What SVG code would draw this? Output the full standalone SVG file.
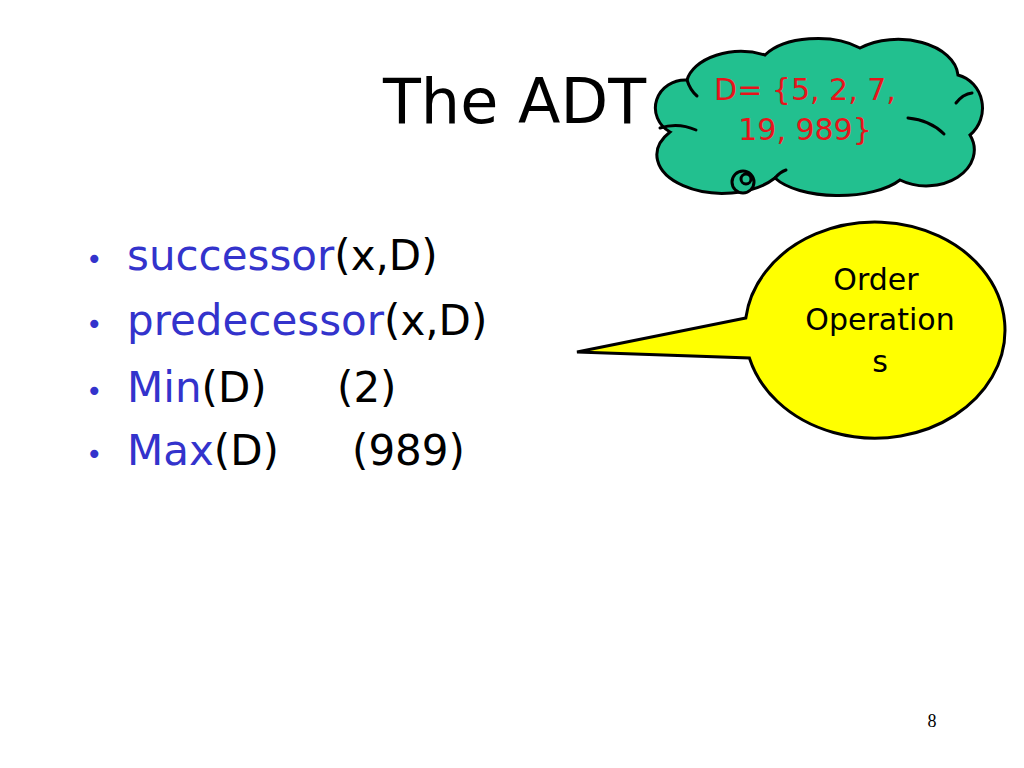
<svg xmlns="http://www.w3.org/2000/svg" width="1024" height="768" viewBox="0 0 1024 768">
<style>
.t{font-family:"DejaVu Sans","Liberation Sans",sans-serif}
.blue{fill:#3333CC}
.blk{fill:#000}
.red{fill:#E8141B}
.ln{fill:none;stroke:#000;stroke-width:3;stroke-linecap:round}
</style>
<rect width="1024" height="768" fill="#fff"/>
<g id="title"><text class="t blk" x="383" y="123" font-size="62">The ADT</text></g>
<g id="bullets" font-size="42">
<text class="t blue" x="86" y="269" font-size="28">•</text>
<text class="t" x="127" y="270"><tspan class="blue">successor</tspan><tspan class="blk">(x,D)</tspan></text>
<text class="t blue" x="86" y="334" font-size="28">•</text>
<text class="t" x="127" y="335"><tspan class="blue">predecessor</tspan><tspan class="blk">(x,D)</tspan></text>
<text class="t blue" x="86" y="401" font-size="28">•</text>
<text class="t" x="127" y="402"><tspan class="blue">Min</tspan><tspan class="blk">(D)</tspan></text>
<text class="t blk" x="337" y="402">(2)</text>
<text class="t blue" x="86" y="464" font-size="28">•</text>
<text class="t" x="127" y="465"><tspan class="blue">Max</tspan><tspan class="blk">(D)</tspan></text>
<text class="t blk" x="352" y="465">(989)</text>
</g>
<g id="cloud">
<path d="M 687,80 A 55,35 0 0 1 765,55 A 60,32 0 0 1 860,48 A 60,38 0 0 1 958,75 A 32,34 0 0 1 970,135 A 48,36 0 0 1 900,180 A 70,30 0 0 1 775,178 A 65,38 0 0 1 670,132 A 30,28 0 0 1 687,80 Z" fill="#22C08F" stroke="#000" stroke-width="3"/>
<path class="ln" d="M 660,128 Q 678,122 696,130"/>
<path class="ln" d="M 908,118 Q 930,120 944,134"/>
<path class="ln" d="M 956,103 Q 963,94 972,93"/>
<path class="ln" d="M 687,80 Q 690,90 697,96"/>
<path class="ln" d="M 775,178 Q 780,172 786,170"/>
<circle cx="743" cy="182" r="11" fill="#22C08F" stroke="#000" stroke-width="3"/>
<circle cx="746" cy="179" r="5" fill="#22C08F" stroke="#000" stroke-width="3"/>
<text class="t red" x="805" y="100" font-size="30" text-anchor="middle">D= {5, 2, 7,</text>
<text class="t red" x="805" y="140" font-size="30" text-anchor="middle">19, 989}</text>
</g>
<g id="callout">
<path d="M 745.8,318 L 577,352 L 749.4,358 A 130,108 0 1 0 745.8,318 Z" fill="#FFFF00" stroke="#000" stroke-width="3" stroke-linejoin="miter"/>
<text class="t blk" x="876" y="290" font-size="30" text-anchor="middle">Order</text>
<text class="t blk" x="880" y="330" font-size="30" text-anchor="middle">Operation</text>
<text class="t blk" x="880" y="372" font-size="30" text-anchor="middle">s</text>
</g>
<g id="page"><text x="932" y="727" font-family="Liberation Serif,serif" font-size="18" text-anchor="middle" fill="#000">8</text></g>
</svg>
